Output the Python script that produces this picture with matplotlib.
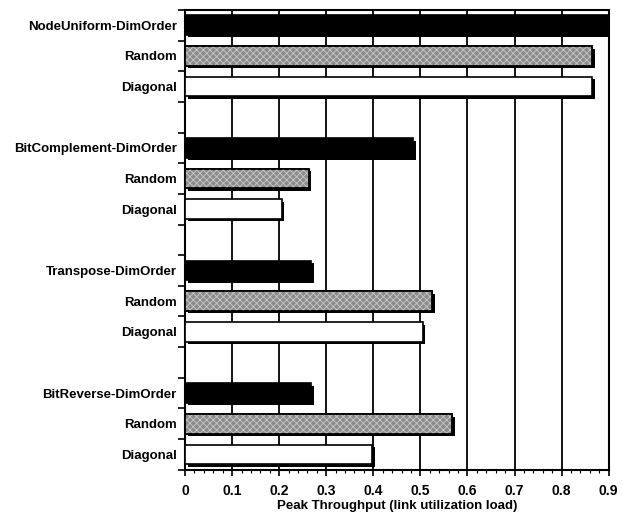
import numpy as np
import matplotlib
matplotlib.use("Agg")
import matplotlib.pyplot as plt
import matplotlib.patheffects as pe

plt.rcParams['font.family'] = ['Liberation Sans', 'DejaVu Sans']
plt.rcParams['font.weight'] = 'bold'
plt.rcParams['hatch.linewidth'] = 0.6

# bar labels, top to bottom
labels = ["NodeUniform-DimOrder", "Random", "Diagonal",
          "BitComplement-DimOrder", "Random", "Diagonal",
          "Transpose-DimOrder", "Random", "Diagonal",
          "BitReverse-DimOrder", "Random", "Diagonal"]
throughput = [0.90, 0.865, 0.865,
              0.485, 0.263, 0.205,
              0.268, 0.525, 0.505,
              0.268, 0.568, 0.398]
kinds = ["dim", "random", "diagonal"] * 4

colors = {"dim": "black", "random": "#8c8c8c", "diagonal": "white"}

# 15 slots: 12 bars + 3 empty gaps
slots = [0, 1, 2, 4, 5, 6, 8, 9, 10, 12, 13, 14]
ypos = [14 - s for s in slots]

fig = plt.figure(figsize=(6.23, 5.18), dpi=100)
ax = fig.add_axes([0.297, 0.093, 0.68, 0.888])

shadow = [pe.SimplePatchShadow(offset=(1.8, -1.8), shadow_rgbFace='black', alpha=1.0), pe.Normal()]
h = 0.64
for y, v, k in zip(ypos, throughput, kinds):
    ax.barh(y, v, height=h, color=colors[k], edgecolor='black', linewidth=1.2,
            zorder=3, path_effects=shadow)
    if k == "random":
        # speckled screen texture
        ax.barh(y, v, height=h, color='none', edgecolor='#c8c8c8', hatch='xxxxx',
                linewidth=0, zorder=4)
        ax.barh(y, v, height=h, color='none', edgecolor='black', linewidth=1.2, zorder=5)

ax.set_xlim(0, 0.9)
ax.set_ylim(-0.5, 14.5)

xt = np.round(np.arange(0, 0.91, 0.1), 1)
ax.set_xticks(xt)
ax.set_xticklabels(["0"] + [f"{t:g}" for t in xt[1:]], fontsize=10, fontweight='bold')
ax.set_xticks(np.arange(0, 0.9, 0.02), minor=True)
ax.tick_params(axis='x', which='major', direction='out', length=4, width=1.2, pad=6)
ax.tick_params(axis='x', which='minor', direction='out', length=2, width=0.8)

# ticks at slot boundaries, labels at slot centres
ax.set_yticks(np.arange(-0.5, 15, 1))
ax.set_yticklabels([])
ax.set_yticks(ypos, minor=True)
ax.set_yticklabels(labels, minor=True, fontsize=9.5, fontweight='bold')
ax.tick_params(axis='y', which='major', direction='out', length=5, width=1.2)
ax.tick_params(axis='y', which='minor', length=0, pad=6)

ax.grid(axis='x', which='major', color='black', linewidth=1.3, zorder=0)
ax.set_axisbelow(True)
for s in ax.spines.values():
    s.set_linewidth(1.5)

ax.set_xlabel("Peak Throughput (link utilization load)", fontsize=9.5, fontweight='bold', labelpad=2)

plt.savefig('out.png', dpi=100)
